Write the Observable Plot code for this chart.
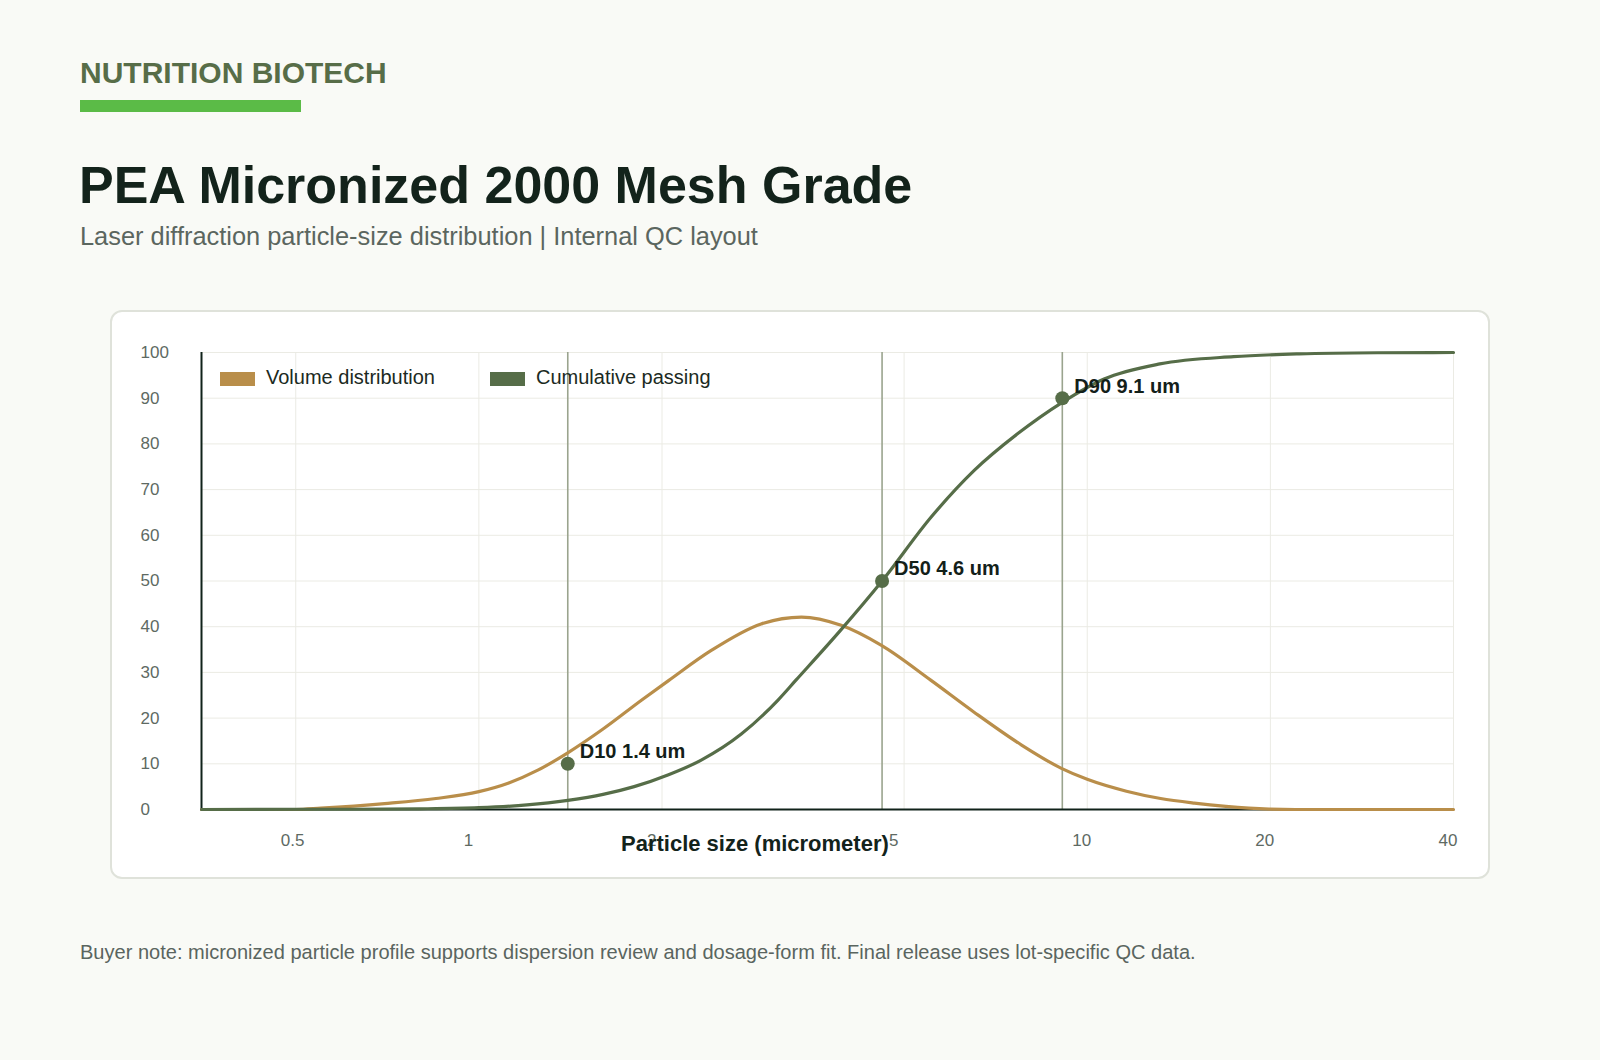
<!DOCTYPE html>
<html>
<head>
<meta charset="utf-8">
<script src="https://cdn.jsdelivr.net/npm/d3@7"></script>
<script src="https://cdn.jsdelivr.net/npm/@observablehq/plot@0.6"></script>
<style>
  html, body { margin: 0; padding: 0; }
  body {
    width: 1600px; height: 1060px; position: relative; overflow: hidden;
    background: #f9faf6;
    font-family: "Liberation Sans", Arial, Helvetica, sans-serif;
  }
  .abs { position: absolute; white-space: nowrap; line-height: 1; }
  #brand { left: 80px; top: 58px; font-size: 30px; font-weight: bold; color: #576d48; }
  #bar { left: 80px; top: 100px; width: 221px; height: 12px; background: #5bbb47; }
  #title { left: 79px; top: 159px; font-size: 52px; font-weight: bold; color: #13231b; }
  #subtitle { left: 80px; top: 224px; font-size: 25.4px; color: #5b665f; }
  #card {
    left: 110px; top: 310px; width: 1380px; height: 569px; box-sizing: border-box;
    background: #ffffff; border: 2px solid #dfe2da; border-radius: 12px;
  }
  #chart { left: 112px; top: 312px; }
  #legend { left: 220px; top: 367px; height: 22px; }
  .item { position: absolute; top: 0; display: flex; align-items: flex-start; font-size: 20px; color: #1b2a22; }
  .swatch { width: 35px; height: 14px; margin-top: 5px; margin-right: 11px; }
  #xlabel { left: 621px; top: 833px; font-size: 22px; font-weight: bold; color: #13231b; }
  #note { left: 80px; top: 942px; font-size: 20.05px; color: #5a655f; }
</style>
</head>
<body>
<div id="brand" class="abs">NUTRITION BIOTECH</div>
<div id="bar" class="abs"></div>
<div id="title" class="abs">PEA Micronized 2000 Mesh Grade</div>
<div id="subtitle" class="abs">Laser diffraction particle-size distribution | Internal QC layout</div>
<div id="card" class="abs"></div>
<div id="chart" class="abs"></div>
<div id="legend" class="abs"></div>
<div id="xlabel" class="abs">Particle size (micrometer)</div>
<div id="note" class="abs">Buyer note: micronized particle profile supports dispersion review and dosage-form fit. Final release uses lot-specific QC data.</div>
<script>
// Volume distribution (% on the shared 0–100 axis) by particle size in micrometers
const volumeSize = [0.35, 0.5, 0.55, 0.7, 0.85, 1.0, 1.12, 1.25, 1.4, 1.6, 1.85, 2.05, 2.41, 2.91, 3.39, 3.94, 4.59, 5.53, 6.5, 7.8, 9.07, 10, 11.6, 13.2, 15, 16.9, 19.9, 22, 30, 40];
const volumePct  = [0, 0, 0.3, 1.3, 2.4, 3.9, 5.8, 8.6, 12.4, 17.6, 23.9, 28.2, 34.8, 40.6, 42.1, 40.3, 35.9, 28.3, 21.4, 14.1, 9.0, 6.6, 4.0, 2.4, 1.4, 0.7, 0.1, 0, 0, 0];

// Cumulative passing (%) by particle size in micrometers
const passingSize = [0.35, 0.6, 0.8, 1.0, 1.2, 1.4, 1.6, 1.8, 2.05, 2.32, 2.7, 3.1, 3.32, 3.93, 4.6, 5.54, 6.52, 7.68, 9.1, 10.66, 13.16, 17.4, 22.3, 30, 40];
const passingPct  = [0, 0.05, 0.15, 0.4, 1.0, 2.0, 3.3, 5.0, 7.6, 10.8, 16.5, 23.9, 28.3, 39.2, 50, 64, 74.2, 82.2, 89.1, 94.2, 97.5, 99.1, 99.7, 99.95, 100];

// Percentile markers
const markerLabel = ["D10", "D50", "D90"];
const markerSize  = [1.4, 4.6, 9.1];
const markerPct   = [10, 50, 90];

// Axis ticks and domain
const xTicks = [0.5, 1, 2, 5, 10, 20, 40];
const yTicks = [0, 10, 20, 30, 40, 50, 60, 70, 80, 90, 100];
const xDomain = [0.35, 40];

const seriesNames = ["Volume distribution", "Cumulative passing"];
const seriesColors = ["#b98e4a", "#566d48"];

const volume = volumeSize.map((s, i) => ({size: s, pct: volumePct[i]}));
const passing = passingSize.map((s, i) => ({size: s, pct: passingPct[i]}));
const markers = markerLabel.map((l, i) => ({label: l, size: markerSize[i], pct: markerPct[i]}));

const gridColor = "#ebebe4";
const axisDark = "#10221a";

const chart = Plot.plot({
  width: 1376,
  height: 565,
  marginLeft: 89,
  marginRight: 35,
  marginTop: 40,
  marginBottom: 68,
  style: {background: "transparent", color: "#5e6a63", fontFamily: "'Liberation Sans', Arial, sans-serif", overflow: "visible"},
  x: {type: "log", domain: xDomain},
  y: {domain: [0, 100]},
  marks: [
    Plot.gridY(yTicks, {stroke: gridColor, strokeOpacity: 1, strokeWidth: 1}),
    Plot.gridX(xTicks, {stroke: gridColor, strokeOpacity: 1, strokeWidth: 1}),
    Plot.ruleX(markers, {x: "size", stroke: "#9aa48e", strokeWidth: 1.6}),
    Plot.ruleY([0], {stroke: axisDark, strokeWidth: 2}),
    Plot.ruleX([xDomain[0]], {stroke: axisDark, strokeWidth: 2}),
    Plot.line(volume, {x: "size", y: "pct", stroke: seriesColors[0], strokeWidth: 3.2, curve: "monotone-x"}),
    Plot.line(passing, {x: "size", y: "pct", stroke: seriesColors[1], strokeWidth: 3.2, curve: "monotone-x"}),
    Plot.dot(markers, {x: "size", y: "pct", r: 7, fill: seriesColors[1]}),
    Plot.text(markers, {x: "size", y: "pct", text: d => `${d.label} ${d.size} um`, textAnchor: "start", dx: 12, dy: -12, fontSize: 20, fontWeight: "bold", fill: "#132019"}),
    Plot.axisY(yTicks, {tickSize: 0, tickPadding: 61, textAnchor: "start", fontSize: 17, label: null}),
    Plot.axisX(xTicks, {tickSize: 0, tickPadding: 24, textAnchor: "start", dx: -15, fontSize: 17, label: null, tickFormat: d => `${d}`})
  ]
});
document.getElementById("chart").appendChild(chart);

// Legend drawn as HTML over the plot area
const legend = document.getElementById("legend");
const itemLeft = [0, 270];
seriesNames.forEach((name, i) => {
  const item = document.createElement("div");
  item.className = "item";
  item.style.left = itemLeft[i] + "px";
  const sw = document.createElement("span");
  sw.className = "swatch";
  sw.style.background = seriesColors[i];
  const label = document.createElement("span");
  label.textContent = name;
  item.appendChild(sw);
  item.appendChild(label);
  legend.appendChild(item);
});
</script>
</body>
</html>
